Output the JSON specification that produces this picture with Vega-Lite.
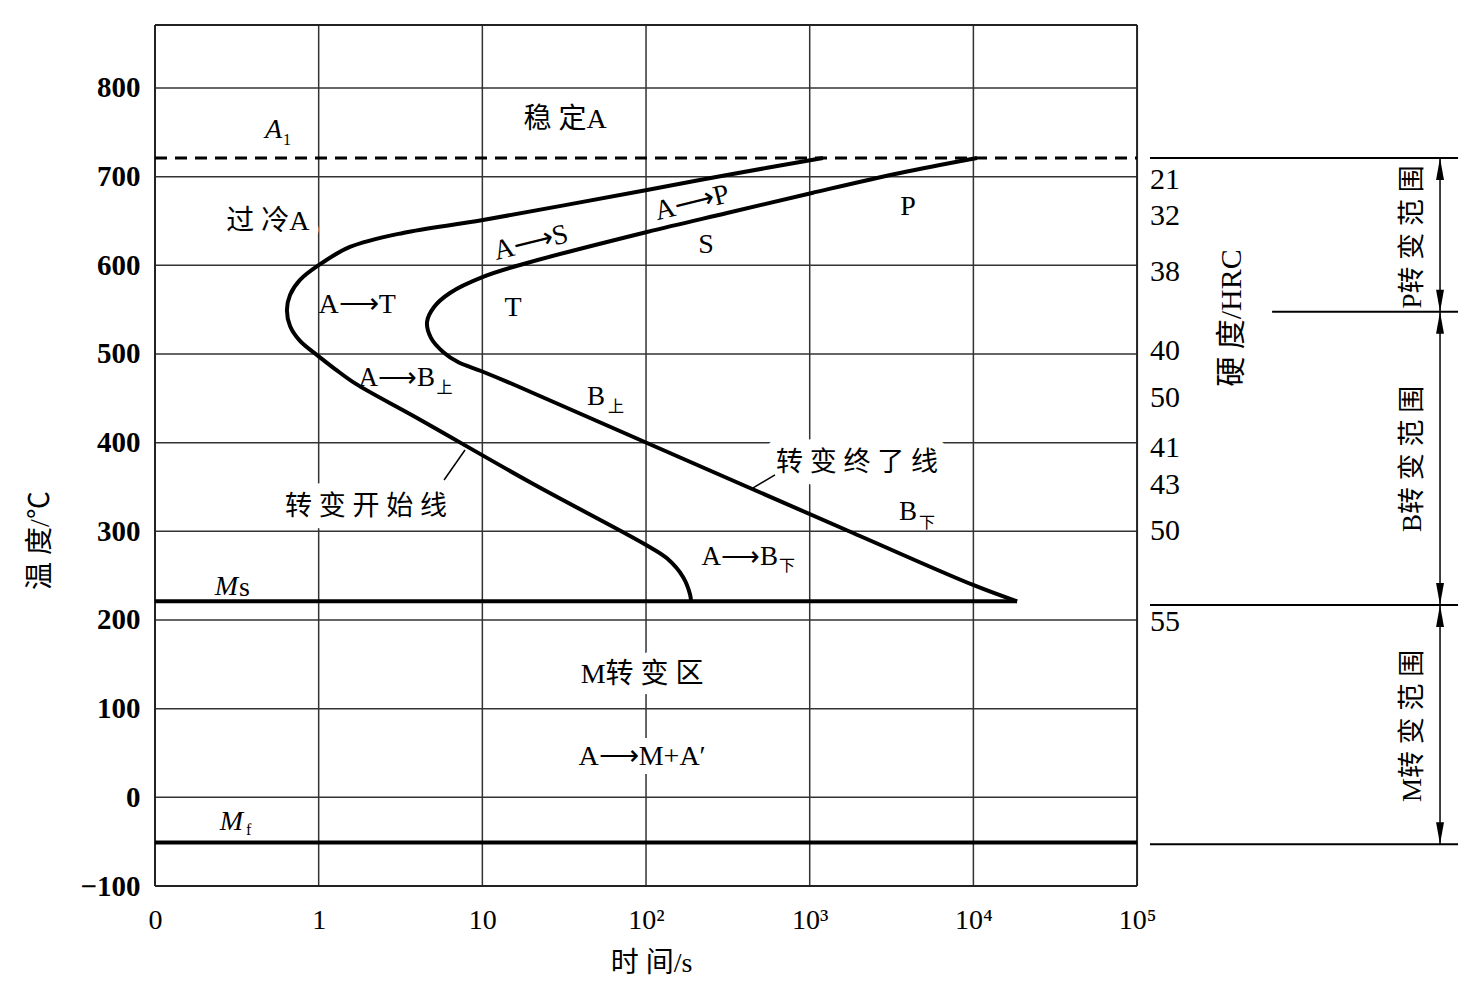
{
  "$schema": "https://vega.github.io/schema/vega-lite/v6.json",
  "width": 1323,
  "height": 861,
  "autosize": {"type": "none"},
  "padding": {"left": 155, "top": 25, "right": 0, "bottom": 107},
  "background": "white",
  "config": {
    "view": {"stroke": null},
    "axis": {"grid": false, "ticks": false, "domain": false},
    "text": {"font": "Liberation Serif, Noto Sans CJK SC", "color": "black"}
  },
  "datasets": {
    "vgrid": [{"x": 1}, {"x": 2}, {"x": 3}, {"x": 4}, {"x": 5}],
    "hgrid": [{"t": 0}, {"t": 100}, {"t": 200}, {"t": 300}, {"t": 400}, {"t": 500}, {"t": 600}, {"t": 700}, {"t": 800}],
    "curves": [
      {"curve": "start", "i": 1, "x": 4.081, "t": 721},
      {"curve": "start", "i": 2, "x": 3.495, "t": 701.9},
      {"curve": "start", "i": 3, "x": 3.006, "t": 685.0},
      {"curve": "start", "i": 4, "x": 2.004, "t": 651.1},
      {"curve": "start", "i": 5, "x": 1.515, "t": 636.5},
      {"curve": "start", "i": 6, "x": 1.191, "t": 620.7},
      {"curve": "start", "i": 7, "x": 1.002, "t": 600.4},
      {"curve": "start", "i": 8, "x": 0.886, "t": 583.5},
      {"curve": "start", "i": 9, "x": 0.825, "t": 566.6},
      {"curve": "start", "i": 10, "x": 0.806, "t": 549.6},
      {"curve": "start", "i": 11, "x": 0.825, "t": 531.6},
      {"curve": "start", "i": 12, "x": 0.886, "t": 514.7},
      {"curve": "start", "i": 13, "x": 0.996, "t": 497.8},
      {"curve": "start", "i": 14, "x": 1.100, "t": 483.0},
      {"curve": "start", "i": 15, "x": 1.225, "t": 466.5},
      {"curve": "start", "i": 16, "x": 1.601, "t": 427.8},
      {"curve": "start", "i": 17, "x": 2.300, "t": 354.5},
      {"curve": "start", "i": 18, "x": 3.006, "t": 284.0},
      {"curve": "start", "i": 19, "x": 3.128, "t": 269.5},
      {"curve": "start", "i": 20, "x": 3.226, "t": 248.5},
      {"curve": "start", "i": 21, "x": 3.269, "t": 228.8},
      {"curve": "start", "i": 22, "x": 3.275, "t": 221},
      {"curve": "end", "i": 1, "x": 5.022, "t": 721},
      {"curve": "end", "i": 2, "x": 4.552, "t": 704.1},
      {"curve": "end", "i": 3, "x": 4.014, "t": 681.6},
      {"curve": "end", "i": 4, "x": 3.495, "t": 659.0},
      {"curve": "end", "i": 5, "x": 3.006, "t": 637.6},
      {"curve": "end", "i": 6, "x": 2.273, "t": 602.6},
      {"curve": "end", "i": 7, "x": 2.004, "t": 586.9},
      {"curve": "end", "i": 8, "x": 1.802, "t": 568.8},
      {"curve": "end", "i": 9, "x": 1.705, "t": 553.0},
      {"curve": "end", "i": 10, "x": 1.662, "t": 536.1},
      {"curve": "end", "i": 11, "x": 1.686, "t": 518.1},
      {"curve": "end", "i": 12, "x": 1.760, "t": 502.3},
      {"curve": "end", "i": 13, "x": 1.851, "t": 491.0},
      {"curve": "end", "i": 14, "x": 1.992, "t": 480.8},
      {"curve": "end", "i": 15, "x": 2.212, "t": 463.9},
      {"curve": "end", "i": 16, "x": 3.006, "t": 399.6},
      {"curve": "end", "i": 17, "x": 4.265, "t": 298.1},
      {"curve": "end", "i": 18, "x": 4.998, "t": 239.5},
      {"curve": "end", "i": 19, "x": 5.267, "t": 221}
    ],
    "leaders": [
      {"id": "s", "i": 1, "x": 1.894, "t": 391.7},
      {"id": "s", "i": 2, "x": 1.766, "t": 357.9},
      {"id": "e", "i": 1, "x": 3.654, "t": 348.9},
      {"id": "e", "i": 2, "x": 3.788, "t": 363.6}
    ],
    "rightlines": [
      {"t": 721, "from": 6.079},
      {"t": 547.7, "from": 6.825},
      {"t": 217, "from": 6.079},
      {"t": -53, "from": 6.079}
    ],
    "arrows": [
      {"t": 721, "dir": "up"},
      {"t": 547.7, "dir": "down"},
      {"t": 547.7, "dir": "up"},
      {"t": 217, "dir": "down"},
      {"t": 217, "dir": "up"},
      {"t": -53, "dir": "down"}
    ],
    "main": [
      {"label": "稳 定A", "x": 2.505, "t": 764},
      {"label": "过 冷A", "x": 0.69, "t": 649},
      {"label": "A⟶T", "x": 1.235, "t": 555},
      {"label": "T", "x": 2.187, "t": 552},
      {"label": "S", "x": 3.367, "t": 623},
      {"label": "P", "x": 4.601, "t": 666},
      {"label": "M转 变 区", "x": 2.976, "t": 138},
      {"label": "A⟶M+A′", "x": 2.976, "t": 45.5}
    ],
    "rightAligned": [
      {"label": "A⟶B", "x": 1.711, "t": 473},
      {"label": "B", "x": 2.749, "t": 451.5},
      {"label": "A⟶B", "x": 3.806, "t": 271},
      {"label": "B", "x": 4.656, "t": 322}
    ],
    "subs": [
      {"label": "上", "x": 1.72, "t": 462},
      {"label": "上", "x": 2.768, "t": 440},
      {"label": "下", "x": 3.813, "t": 261},
      {"label": "下", "x": 4.668, "t": 309.4},
      {"label": "1", "x": 0.782, "t": 741},
      {"label": "f", "x": 0.556, "t": -37}
    ],
    "italics": [
      {"label": "A", "x": 0.776, "t": 752.6},
      {"label": "M", "x": 0.507, "t": 237},
      {"label": "M", "x": 0.538, "t": -28}
    ],
    "upright": [{"label": "s", "x": 0.513, "t": 236}],
    "slanted": [
      {"label": "A⟶S", "x": 2.297, "t": 625},
      {"label": "A⟶P", "x": 3.281, "t": 670}
    ],
    "leaderText": [
      {"label": "转 变 开 始 线", "x": 1.289, "t": 327.5},
      {"label": "转 变 终 了 线", "x": 4.289, "t": 377}
    ],
    "hardness": [
      {"label": "21", "t": 696},
      {"label": "32", "t": 656},
      {"label": "38", "t": 593},
      {"label": "40", "t": 503},
      {"label": "50", "t": 450},
      {"label": "41", "t": 394},
      {"label": "43", "t": 352},
      {"label": "50", "t": 300},
      {"label": "55", "t": 198}
    ],
    "ranges": [
      {"label": "P转 变 范 围", "t": 632},
      {"label": "B转 变 范 围", "t": 381.6},
      {"label": "M转 变 范 围", "t": 80.5}
    ],
    "hrc": [{"label": "硬 度/HRC", "x": 6.58, "t": 540.6}]
  },
  "layer": [
    {
      "data": {"name": "vgrid"},
      "mark": {"type": "rule", "stroke": "#333", "strokeWidth": 1.5},
      "encoding": {
        "x": {
          "field": "x", "type": "quantitative",
          "scale": {"domain": [0, 8.083], "nice": false, "zero": false},
          "axis": {
            "values": [0, 1, 2, 3, 4, 5, 6],
            "labelExpr": "['0','1','10','10²','10³','10⁴','10⁵'][datum.value]",
            "labelFont": "Liberation Serif", "labelFontSize": 28, "labelColor": "black",
            "labelPadding": 34, "labelBaseline": "middle",
            "labelOverlap": false, "labelBound": false, "labelFlush": false,
            "title": "时 间/s", "titleFont": "Liberation Serif, Noto Sans CJK SC",
            "titleFontSize": 28, "titleFontWeight": "normal", "titleColor": "black",
            "titleX": 496, "titleY": 77, "titleBaseline": "middle", "titleAlign": "center"
          }
        },
        "y": {
          "datum": -100, "type": "quantitative",
          "scale": {"domain": [-100, 871], "nice": false, "zero": false},
          "axis": {
            "values": [-100, 0, 100, 200, 300, 400, 500, 600, 700, 800],
            "labelFont": "Liberation Serif", "labelFontSize": 29, "labelFontWeight": "bold",
            "labelColor": "black", "labelPadding": 15,
            "labelOverlap": false, "labelBound": false, "labelFlush": false,
            "title": "温 度/℃", "titleFont": "Liberation Serif, Noto Sans CJK SC",
            "titleFontSize": 28, "titleFontWeight": "normal", "titleColor": "black",
            "titleAngle": -90, "titleX": -115, "titleY": 515, "titleBaseline": "middle", "titleAlign": "center"
          }
        },
        "y2": {"datum": 871}
      }
    },
    {
      "data": {"name": "hgrid"},
      "mark": {"type": "rule", "stroke": "#333", "strokeWidth": 1.5},
      "encoding": {
        "y": {"field": "t", "type": "quantitative"},
        "x": {"datum": 0, "type": "quantitative"},
        "x2": {"datum": 6}
      }
    },
    {
      "data": {"values": [{}]},
      "mark": {"type": "rule", "stroke": "#222", "strokeWidth": 2},
      "encoding": {"x": {"datum": 0, "type": "quantitative"}, "y": {"datum": -100, "type": "quantitative"}, "y2": {"datum": 871}}
    },
    {
      "data": {"values": [{}]},
      "mark": {"type": "rule", "stroke": "#222", "strokeWidth": 2},
      "encoding": {"x": {"datum": 6, "type": "quantitative"}, "y": {"datum": -100, "type": "quantitative"}, "y2": {"datum": 871}}
    },
    {
      "data": {"values": [{}]},
      "mark": {"type": "rule", "stroke": "#222", "strokeWidth": 2},
      "encoding": {"y": {"datum": -100, "type": "quantitative"}, "x": {"datum": 0, "type": "quantitative"}, "x2": {"datum": 6}}
    },
    {
      "data": {"values": [{}]},
      "mark": {"type": "rule", "stroke": "#222", "strokeWidth": 2},
      "encoding": {"y": {"datum": 871, "type": "quantitative"}, "x": {"datum": 0, "type": "quantitative"}, "x2": {"datum": 6}}
    },
    {
      "data": {"name": "leaderText"},
      "mark": {"type": "text", "fontSize": 27, "align": "center", "baseline": "middle", "stroke": "white", "strokeWidth": 22, "strokeJoin": "round", "fill": "white"},
      "encoding": {"x": {"field": "x", "type": "quantitative"}, "y": {"field": "t", "type": "quantitative"}, "text": {"field": "label"}}
    },
    {
      "data": {"name": "main"},
      "transform": [{"filter": "indexof(['M转 变 区','A⟶M+A′','过 冷A'], datum.label) >= 0"}],
      "mark": {"type": "text", "fontSize": 28, "align": "center", "baseline": "middle", "stroke": "white", "strokeWidth": 18, "strokeJoin": "round", "fill": "white"},
      "encoding": {"x": {"field": "x", "type": "quantitative"}, "y": {"field": "t", "type": "quantitative"}, "text": {"field": "label"}}
    },
    {
      "data": {"values": [{}]},
      "mark": {"type": "rule", "stroke": "black", "strokeWidth": 3, "strokeDash": [12, 8]},
      "encoding": {"y": {"datum": 721, "type": "quantitative"}, "x": {"datum": 0, "type": "quantitative"}, "x2": {"datum": 6}}
    },
    {
      "data": {"values": [{}]},
      "mark": {"type": "rule", "stroke": "black", "strokeWidth": 4},
      "encoding": {"y": {"datum": 221, "type": "quantitative"}, "x": {"datum": 0, "type": "quantitative"}, "x2": {"datum": 5.267}}
    },
    {
      "data": {"values": [{}]},
      "mark": {"type": "rule", "stroke": "black", "strokeWidth": 4},
      "encoding": {"y": {"datum": -51, "type": "quantitative"}, "x": {"datum": 0, "type": "quantitative"}, "x2": {"datum": 6}}
    },
    {
      "data": {"name": "curves"},
      "mark": {"type": "line", "stroke": "black", "strokeWidth": 4, "interpolate": "catmull-rom", "strokeJoin": "round"},
      "encoding": {
        "x": {"field": "x", "type": "quantitative"},
        "y": {"field": "t", "type": "quantitative"},
        "detail": {"field": "curve"},
        "order": {"field": "i", "type": "quantitative"}
      }
    },
    {
      "data": {"name": "leaders"},
      "mark": {"type": "line", "stroke": "black", "strokeWidth": 1.5},
      "encoding": {
        "x": {"field": "x", "type": "quantitative"},
        "y": {"field": "t", "type": "quantitative"},
        "detail": {"field": "id"},
        "order": {"field": "i", "type": "quantitative"}
      }
    },
    {
      "data": {"name": "rightlines"},
      "mark": {"type": "rule", "stroke": "black", "strokeWidth": 2},
      "encoding": {
        "y": {"field": "t", "type": "quantitative"},
        "x": {"field": "from", "type": "quantitative"},
        "x2": {"datum": 7.961}
      }
    },
    {
      "data": {"values": [{}]},
      "mark": {"type": "rule", "stroke": "black", "strokeWidth": 1.5},
      "encoding": {"x": {"datum": 7.851, "type": "quantitative"}, "y": {"datum": 721, "type": "quantitative"}, "y2": {"datum": -53}}
    },
    {
      "data": {"name": "arrows"},
      "mark": {"type": "point", "filled": true, "color": "black", "opacity": 1, "size": 484},
      "encoding": {
        "x": {"datum": 7.851, "type": "quantitative"},
        "y": {"field": "t", "type": "quantitative"},
        "shape": {
          "field": "dir", "type": "nominal",
          "scale": {"domain": ["up", "down"], "range": ["M0,0L-0.36,2L0.36,2Z", "M0,0L-0.36,-2L0.36,-2Z"]},
          "legend": null
        }
      }
    },
    {
      "data": {"name": "main"},
      "mark": {"type": "text", "fontSize": 28, "align": "center", "baseline": "middle"},
      "encoding": {"x": {"field": "x", "type": "quantitative"}, "y": {"field": "t", "type": "quantitative"}, "text": {"field": "label"}}
    },
    {
      "data": {"name": "rightAligned"},
      "mark": {"type": "text", "fontSize": 27, "align": "right", "baseline": "middle"},
      "encoding": {"x": {"field": "x", "type": "quantitative"}, "y": {"field": "t", "type": "quantitative"}, "text": {"field": "label"}}
    },
    {
      "data": {"name": "subs"},
      "mark": {"type": "text", "fontSize": 16, "align": "left", "baseline": "middle"},
      "encoding": {"x": {"field": "x", "type": "quantitative"}, "y": {"field": "t", "type": "quantitative"}, "text": {"field": "label"}}
    },
    {
      "data": {"name": "italics"},
      "mark": {"type": "text", "fontSize": 28, "fontStyle": "italic", "align": "right", "baseline": "middle"},
      "encoding": {"x": {"field": "x", "type": "quantitative"}, "y": {"field": "t", "type": "quantitative"}, "text": {"field": "label"}}
    },
    {
      "data": {"name": "upright"},
      "mark": {"type": "text", "fontSize": 28, "align": "left", "baseline": "middle"},
      "encoding": {"x": {"field": "x", "type": "quantitative"}, "y": {"field": "t", "type": "quantitative"}, "text": {"field": "label"}}
    },
    {
      "data": {"name": "slanted"},
      "mark": {"type": "text", "fontSize": 28, "align": "center", "baseline": "middle", "angle": -14},
      "encoding": {"x": {"field": "x", "type": "quantitative"}, "y": {"field": "t", "type": "quantitative"}, "text": {"field": "label"}}
    },
    {
      "data": {"name": "leaderText"},
      "mark": {"type": "text", "fontSize": 27, "align": "center", "baseline": "middle"},
      "encoding": {"x": {"field": "x", "type": "quantitative"}, "y": {"field": "t", "type": "quantitative"}, "text": {"field": "label"}}
    },
    {
      "data": {"name": "hardness"},
      "mark": {"type": "text", "fontSize": 30, "align": "left", "baseline": "middle", "font": "Liberation Serif"},
      "encoding": {"x": {"datum": 6.079, "type": "quantitative"}, "y": {"field": "t", "type": "quantitative"}, "text": {"field": "label"}}
    },
    {
      "data": {"name": "ranges"},
      "mark": {"type": "text", "fontSize": 27, "align": "center", "baseline": "middle", "angle": -90},
      "encoding": {"x": {"datum": 7.686, "type": "quantitative"}, "y": {"field": "t", "type": "quantitative"}, "text": {"field": "label"}}
    },
    {
      "data": {"name": "hrc"},
      "mark": {"type": "text", "fontSize": 30, "align": "center", "baseline": "middle", "angle": -90},
      "encoding": {"x": {"field": "x", "type": "quantitative"}, "y": {"field": "t", "type": "quantitative"}, "text": {"field": "label"}}
    }
  ]
}
